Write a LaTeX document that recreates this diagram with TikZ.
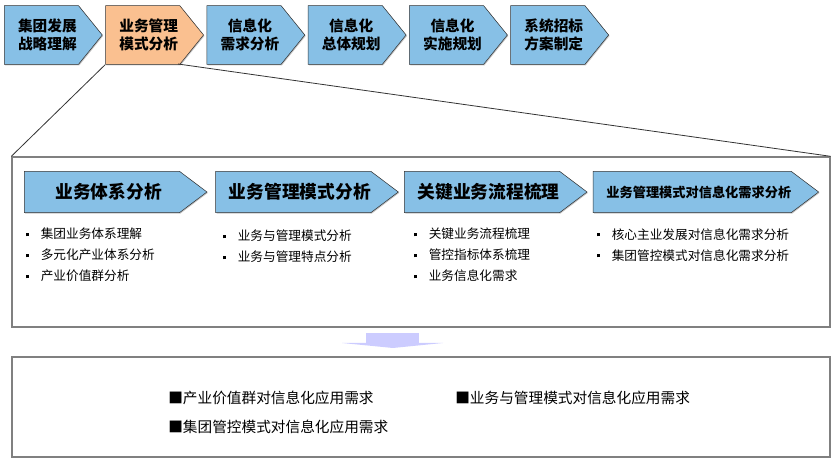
\documentclass[tikz,border=0pt]{standalone}
\usepackage{fontspec}
\setmainfont{Noto Sans CJK SC}
\usetikzlibrary{positioning,shapes.symbols,shadows}
\definecolor{stepblue}{HTML}{87C0E6}
\definecolor{steporange}{HTML}{FAC090}
\definecolor{framegray}{HTML}{808080}
\definecolor{arrowlav}{HTML}{CCCCFF}
\newcommand{\itm}{\rule[2pt]{2.4pt}{2.4pt}\hspace{8.5pt}}
\newcommand{\sft}{\hspace*{9pt}}
\newcommand{\brk}{\\\hspace*{9pt}}

\begin{document}
\begin{tikzpicture}[
    x=0.75pt, y=-0.75pt,
    node distance=2pt and 2pt,
    stage/.style={signal, signal to=east, signal pointer angle=102, draw=black!80, fill=stepblue, minimum width=73.5pt, minimum height=44pt, inner xsep=0pt, inner ysep=1pt, align=center, font=\bfseries\fontsize{11}{13.5}\selectfont, drop shadow={shadow xshift=0.7pt, shadow yshift=-0.7pt, fill=black!45}},
    phase/.style={signal, signal to=east, signal pointer angle=74, draw=black!80, fill=stepblue, minimum width=137pt, minimum height=31pt, inner xsep=0pt, inner ysep=1pt, font=\bfseries\fontsize{13.3}{16}\selectfont, execute at begin node=\hspace*{10pt}, drop shadow={shadow xshift=0.7pt, shadow yshift=-0.7pt, fill=black!45}},
    items/.style={anchor=north west, inner sep=0pt, align=left, font=\fontsize{9.5}{15.75}\selectfont},
    need/.style={anchor=west, inner sep=0pt, font=\fontsize{11}{13}\selectfont},
    panel/.style={draw=framegray, line width=1pt, minimum width=613.5pt},
    zoomline/.style={draw=black!80, line width=0.6pt}
]
    \useasboundingbox (0,0) rectangle (832,459);

    % overall stages
    \node[stage, anchor=west] (s1) at (4,35) {\sft 集团发展\brk 战略理解};
    \node[stage, fill=steporange, right=of s1] (s2) {\sft 业务管理\brk 模式分析};
    \node[stage, right=of s2] (s3) {\sft 信息化\brk 需求分析};
    \node[stage, right=of s3] (s4) {\sft 信息化\brk 总体规划};
    \node[stage, right=of s4] (s5) {\sft 信息化\brk 实施规划};
    \node[stage, right=of s5] (s6) {\sft 系统招标\brk 方案制定};

    % detail of stage 2
    \node[panel, minimum height=127.5pt] (detail) at (421,242) {};
    \coordinate (zr) at (178,64);
    \draw[zoomline] (s2.south west) -- (detail.north west);
    \draw[zoomline] (zr) -- (detail.north east);

    \node[phase, anchor=west] (c1) at (24,192) {业务体系分析};
    \node[phase, right=6pt of c1] (c2) {业务管理模式分析};
    \node[phase, right=4pt of c2] (c3) {关键业务流程梳理};
    \node[phase, right=4pt of c3, minimum width=161pt, font=\bfseries\fontsize{9.9}{12}\selectfont, execute at begin node=] (c4) {业务管理模式对信息化需求分析};

    \node[items] (l1) at (26,228) {\itm 集团业务体系理解\\\itm 多元化产业体系分析\\\itm 产业价值群分析};
    \node[items] (l2) at (223,230) {\itm 业务与管理模式分析\\\itm 业务与管理特点分析};
    \node[items] (l3) at (414,228) {\itm 关键业务流程梳理\\\itm 管控指标体系梳理\\\itm 业务信息化需求};
    \node[items] (l4) at (597,228) {\itm 核心主业发展对信息化需求分析\\\itm 集团管控模式对信息化需求分析};

    % result
    \fill[arrowlav] (366,333) rectangle (419,343);
    \fill[arrowlav] (342,343) -- (443,343) -- (393,348) -- cycle;
    \node[panel, minimum height=75pt] (result) at (421,407) {};
    \node[need] (n1) at (168,398) {■产业价值群对信息化应用需求};
    \node[need] (n2) at (455,398) {■业务与管理模式对信息化应用需求};
    \node[need] (n3) at (168,427) {■集团管控模式对信息化应用需求};
\end{tikzpicture}
\end{document}
